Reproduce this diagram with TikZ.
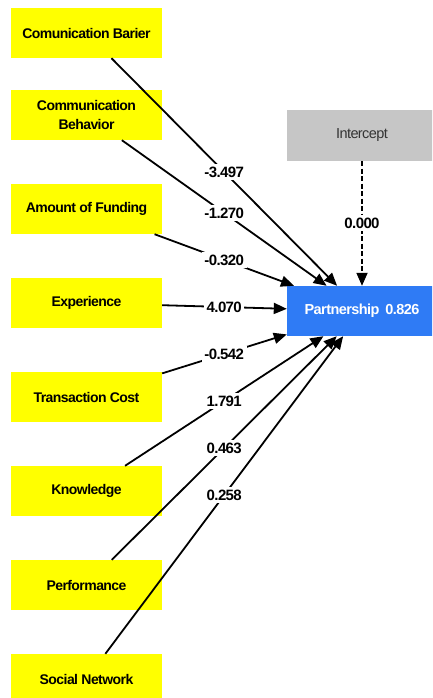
\documentclass[tikz,border=0pt]{standalone}
\usepackage{fontspec}
\setmainfont{Liberation Sans}
\newfontfamily\tightsans[LetterSpace=-4]{Liberation Sans}
\usetikzlibrary{calc,arrows.meta}
\definecolor{boxyellow}{HTML}{FFFF00}
\definecolor{ptblue}{HTML}{2F7BF5}
\definecolor{icgray}{HTML}{C6C6C6}
\definecolor{ictext}{HTML}{333333}
\begin{document}
\begin{tikzpicture}[x=1pt,y=-1pt,
  ybox/.style={fill=boxyellow, minimum width=151pt, minimum height=50pt, inner sep=0pt, align=center,
    font=\tightsans\fontsize{14}{18.5}\selectfont\bfseries},
  gbox/.style={fill=icgray, minimum width=150pt, minimum height=51pt, inner sep=0pt,
    text=ictext, font=\tightsans\fontsize{14.5}{16}\selectfont},
  bbox/.style={fill=ptblue, minimum width=150pt, minimum height=50pt, inner sep=0pt,
    text=white, font=\tightsans\fontsize{14.5}{16}\selectfont\bfseries},
  lbl/.style={fill=white, inner sep=2.5pt, font=\tightsans\fontsize{15}{17}\selectfont\bfseries},
  arr/.style={line width=1.8pt, -{Triangle[length=13pt,width=11pt]}},
  darr/.style={arr, dash pattern=on 5pt off 2.5pt}]
\useasboundingbox (0,0) rectangle (432,698);
\clip (0,0) rectangle (432,698);
\fill[white] (0,0) rectangle (432,698);
% nodes
\node[ybox] (cb) at (86.5,33) {Comunication Barier};
\node[ybox] (cbh) at (86.5,115) {Communication\\Behavior};
\node[ybox] (af) at (86.5,209) {Amount of Funding};
\node[ybox] (ex) at (86.5,303) {Experience};
\node[ybox] (tc) at (86.5,397) {Transaction Cost};
\node[ybox] (kn) at (86.5,491) {Knowledge};
\node[ybox] (pf) at (86.5,585) {Performance};
\node[ybox] (sn) at (86.5,679) {Social Network};
\node[gbox] (ic) at (362,135.5) {Intercept};
\node[bbox] (pt) at (362,311) {Partnership\hspace{6pt}0.826};
% connectors
\draw[arr] (cb) -- (pt);
\draw[arr] (cbh) -- (pt);
\draw[arr] (af) -- (pt);
\draw[arr] (ex) -- (pt);
\draw[arr] (tc) -- (pt);
\draw[arr] (kn) -- (pt);
\draw[arr] (pf) -- (pt);
\draw[arr] (sn) -- (pt);
\draw[darr] (ic) -- (pt);
% labels
\node[lbl] (l1) at ($(cb)!0.5!(pt)$) {-3.497};
\node[lbl] (l2) at ($(cbh)!0.5!(pt)$) {-1.270};
\node[lbl] (l3) at ($(af)!0.5!(pt)$) {-0.320};
\node[lbl] (l4) at ($(ex)!0.5!(pt)$) {4.070};
\node[lbl] (l5) at ($(tc)!0.5!(pt)$) {-0.542};
\node[lbl] (l6) at ($(kn)!0.5!(pt)$) {1.791};
\node[lbl] (l7) at ($(pf)!0.5!(pt)$) {0.463};
\node[lbl] (l8) at ($(sn)!0.5!(pt)$) {0.258};
\node[lbl] (l9) at ($(ic)!0.5!(pt)$) {0.000};
\end{tikzpicture}
\end{document}
